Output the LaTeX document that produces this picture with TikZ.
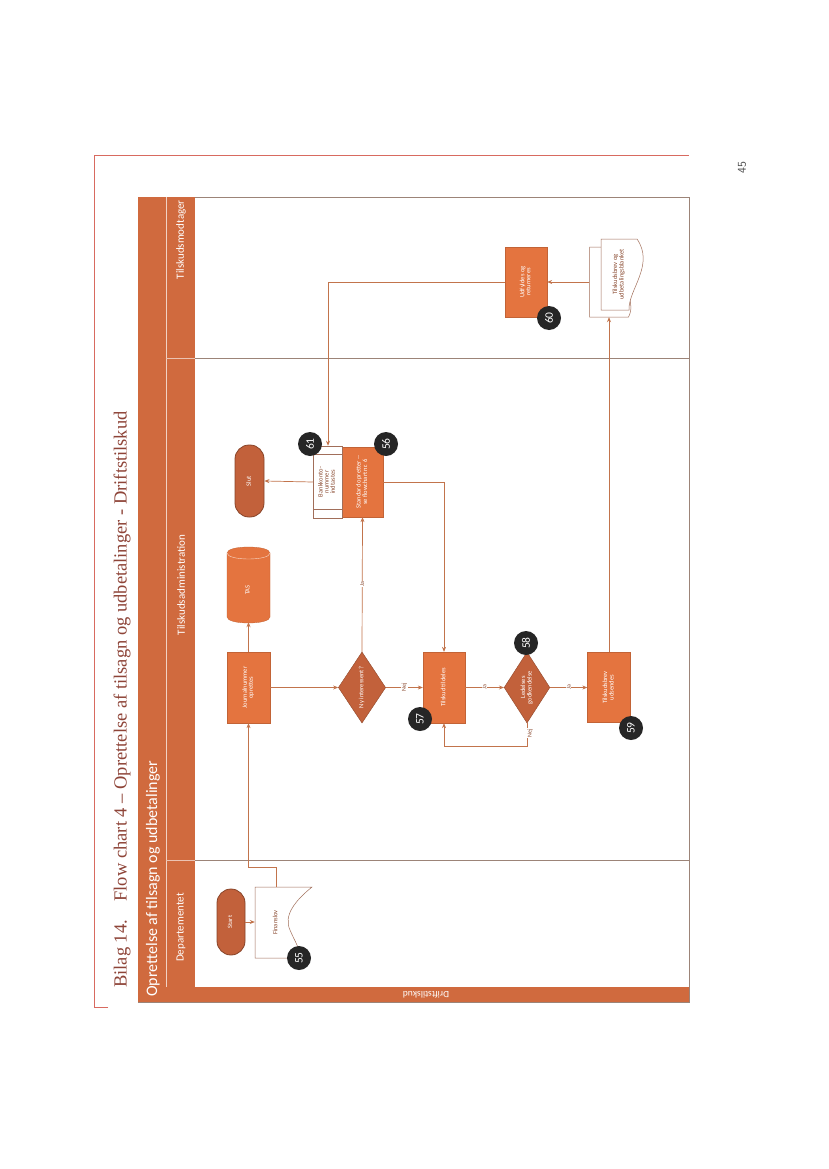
\documentclass[tikz,border=0pt]{standalone}
\usepackage{fontspec}
\setmainfont{Liberation Serif}
\newfontfamily\calfont{Carlito}
\usetikzlibrary{shapes.geometric,arrows.meta}
\definecolor{boxor}{HTML}{E4743F}
\definecolor{darkor}{HTML}{C2613B}
\definecolor{hdr}{HTML}{D06A3E}
\definecolor{conn}{HTML}{C2744C}
\definecolor{lanel}{HTML}{9C8478}
\definecolor{titlec}{HTML}{8E4438}
\definecolor{rulec}{HTML}{D86A60}
\definecolor{doct}{HTML}{8A4A30}
\newcommand{\rt}[1]{\rotatebox{90}{\renewcommand{\arraystretch}{0.85}\begin{tabular}{@{}c@{}}#1\end{tabular}}}
\tikzset{
  box/.style={rectangle, fill=boxor, draw=boxor!85!black, line width=0.3pt, text=white, font=\calfont\fontsize{6.5}{7}\selectfont, inner sep=0pt},
  dia/.style={diamond, fill=darkor, draw=darkor!75!black, line width=0.4pt, text=white, font=\calfont\fontsize{6.5}{7}\selectfont, inner sep=0pt},
  term/.style={rectangle, rounded corners=14pt, fill=darkor, draw=darkor!70!black, line width=0.8pt, text=white, font=\calfont\fontsize{6.5}{7}\selectfont, inner sep=0pt},
  ghost/.style={rectangle, draw=none, inner sep=0pt, text=doct, font=\calfont\fontsize{6.5}{7}\selectfont},
  docst/.style={fill=white, draw=doct!80, line width=0.5pt},
  badge/.style={circle, fill=black!85, text=white, minimum size=24pt, inner sep=0pt, font=\calfont\fontsize{11.5}{11.5}\selectfont},
  arr/.style={draw=conn, line width=0.7pt, -{Stealth[length=5pt,width=4pt]}},
  lbl/.style={fill=white, inner sep=0.6pt, text=doct, font=\calfont\fontsize{6}{6}\selectfont},
  lane/.style={draw=lanel, line width=0.6pt},
  hdrtxt/.style={text=white, font=\calfont\fontsize{11}{11}\selectfont, inner sep=0pt}
}
\begin{document}
\begin{tikzpicture}[x=1pt,y=-1pt]
\useasboundingbox (0,0) rectangle (828,1169);
\fill[white] (0,0) rectangle (828,1169);
% page title and rule
\draw[rulec, line width=0.6pt] (108,1007) -- (94,1007) -- (94,155) -- (689,155);
\node[rotate=90, anchor=west, inner sep=0pt, text=titlec, font=\fontsize{18.5}{18.5}\selectfont] (title) at (122,988) {Bilag 14.\quad Flow chart 4 -- Oprettelse af tilsagn og udbetalinger - Driftstilskud};
\node[rotate=90, inner sep=0pt, text=black!70, font=\sffamily\fontsize{12}{12}\selectfont] (pnum) at (742,168) {45};
% pool frame
\draw[lane] (138,197) rectangle (689,1002);
\fill[hdr] (138,197) rectangle (195,1002);
\draw[white!70!hdr, line width=0.5pt] (166,197) -- (166,987);
\draw[white!60!hdr, line width=0.4pt] (166,358) -- (195,358) (166,860) -- (195,860);
\fill[hdr] (138,987) rectangle (689,1002);
\node[rotate=180, hdrtxt, font=\calfont\fontsize{9.5}{9.5}\selectfont] (phase) at (426,995) {Driftstilskud};
\node[rotate=90, anchor=west, hdrtxt, font=\calfont\fontsize{16}{16}\selectfont] (pool) at (153,997) {Oprettelse af tilsagn og udbetalinger};
\node[rotate=90, anchor=west, hdrtxt] (l1) at (181,962) {Departementet};
\node[rotate=90, hdrtxt] (l2) at (181,585) {Tilskudsadministration};
\node[rotate=90, anchor=east, hdrtxt] (l3) at (181,200) {Tilskudsmodtager};
\draw[lane] (195,358) -- (689,358) (195,860) -- (689,860);
% Departementet lane
\node[term, minimum width=28pt, minimum height=66pt] (start) at (231,922) {\rt{Start}};
\path[docst] (255,887) -- (312,887) .. controls (296,900) and (283,915) .. (290,930) .. controls (295,942) and (300,948) .. (300,958) -- (255,958) -- cycle;
\node[ghost, minimum width=42pt, minimum height=71pt] (fin) at (276,922.5) {\rt{Finanslov}};
% Tilskudsadministration lane
\node[box, minimum width=43pt, minimum height=71pt] (jour) at (248.5,687.5) {\rt{Journalnummer\\oprettes}};
\path[fill=boxor, draw=boxor!85!black, line width=0.3pt] (227,553) -- (227,617) .. controls (227,625) and (270,625) .. (270,617) -- (270,553) .. controls (270,545) and (227,545) .. (227,553) -- cycle;
\draw[white!70!boxor, line width=0.4pt] (227,553) .. controls (227,561) and (270,561) .. (270,553);
\node[ghost, text=white, minimum width=43pt, minimum height=64pt] (tas) at (248.5,590) {\rt{TAS}};
\node[dia, minimum width=42pt, minimum height=71pt] (d1) at (362,687.5) {\rt{Ny interessent?}};
\node[box, minimum width=42pt, minimum height=71pt] (tild) at (444,687.5) {\rt{Tilskud tildeles}};
\node[dia, minimum width=42pt, minimum height=71pt] (d2) at (527,687.5) {\rt{Ledelses\\godkendelse}};
\node[box, minimum width=43pt, minimum height=70pt] (tbrev) at (609,687.5) {\rt{Tilskudsbrev\\udsendes}};
\node[box, minimum width=41pt, minimum height=70pt] (std) at (362.5,482) {\rt{Standard opretter --\\se flowchart nr. 6}};
\node[rectangle, fill=white, draw=doct!80, line width=0.5pt, minimum width=29pt, minimum height=72pt, inner sep=0pt, text=doct, font=\calfont\fontsize{6.5}{7}\selectfont] (bank) at (327.5,482) {\rt{Bankkonto-\\nummer\\indtastes}};
\draw[doct!80, line width=0.5pt] (bank.north west) ++(0,8) -- ++(29,0);
\draw[doct!80, line width=0.5pt] (bank.south west) ++(0,-9) -- ++(29,0);
\node[term, minimum width=29pt, minimum height=72pt] (slut) at (249.5,481) {\rt{Slut}};
% Tilskudsmodtager lane
\node[box, minimum width=42pt, minimum height=70pt] (udf) at (526,282) {\rt{Udfyldes og\\returneres}};
\path[docst] (589.5,247) -- (630,247) -- (630,300) .. controls (632,310) and (630,314) .. (628.5,317) -- (589.5,317) -- cycle;
\node[ghost, minimum width=39pt, minimum height=70pt] (mback) at (609,282) {};
\path[docst] (601,239) -- (637,239) .. controls (655,265) and (628,290) .. (629,310) -- (601,310) -- cycle;
\node[ghost, minimum width=36pt, minimum height=71pt] (mdoc) at (619,274.5) {\rt{Tilskudsbrev og\\udbetalingsblanket}};
% connectors
\draw[arr] (start) -- (fin.west |- start);
\coordinate (k1) at (276,867);
\draw[arr] (fin.north) -- (k1) -| (jour.south);
\draw[arr] (jour.north) -- (tas.south);
\draw[arr] (jour.east) -- (d1.west);
\draw[arr] (d1.east) -- node[lbl]{\rotatebox{90}{Nej}} (tild.west);
\draw[arr] (d1.north) -- node[lbl]{\rotatebox{90}{Ja}} (std.south);
\draw[arr] (tild.east) -- node[lbl]{\rotatebox{90}{Ja}} (d2.west);
\coordinate (k2) at (527,746);
\draw[arr] (d2.south) -- (k2) -| (tild.south);
\node[lbl] (nej2) at (530,733) {\rotatebox{90}{Nej}};
\draw[arr] (d2.east) -- node[lbl]{\rotatebox{90}{Ja}} (tbrev.west);
\draw[arr] (tbrev.north) -- (mback.south);
\draw[arr] (mback.west) -- (udf.east);
\coordinate (k3) at (328,282);
\draw[arr] (udf.west) -- (k3) -- (bank.north -| k3);
\draw[arr] (bank.west) -- (slut.east);
\coordinate (k4) at (444,482);
\draw[arr] (std.east) -- (k4) -- (tild.north);
% badges
\node[badge] (b55) at (299,958) {\rotatebox{90}{55}};
\node[badge] (b56) at (386,444) {\rotatebox{90}{56}};
\node[badge] (b57) at (420,719) {\rotatebox{90}{57}};
\node[badge] (b58) at (526,643) {\rotatebox{90}{58}};
\node[badge] (b59) at (631,728) {\rotatebox{90}{59}};
\node[badge] (b60) at (549,318) {\rotatebox{90}{60}};
\node[badge] (b61) at (310,444) {\rotatebox{90}{61}};
\end{tikzpicture}
\end{document}
